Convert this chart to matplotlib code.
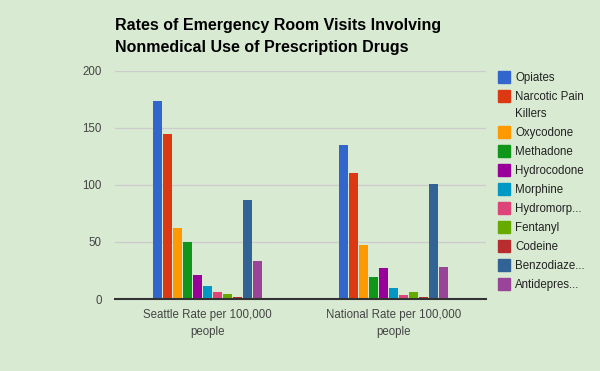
import numpy as np
from matplotlib import pyplot as plt
from matplotlib.patches import Rectangle

groups = ['Seattle Rate per 100,000\npeople', 'National Rate per 100,000\npeople']
drugs = ['Opiates', 'Narcotic Pain\nKillers', 'Oxycodone', 'Methadone', 'Hydrocodone',
         'Morphine', 'Hydromorp...', 'Fentanyl', 'Codeine', 'Benzodiaze...', 'Antidepres...']
seattle = [174, 145, 62.5, 50, 21.3, 11.7, 6.4, 4.6, 2, 87, 33.6]
national = [135.4, 110.8, 47.6, 19.6, 27.5, 9.9, 3.8, 6.4, 2, 101, 28.3]
colors = ['#3366cc', '#dc3912', '#ff9900', '#109618', '#990099', '#0099c6',
          '#dd4477', '#66aa00', '#b82e2e', '#316395', '#994499']
yticks = [0, 50, 100, 150, 200]

bg = '#d9ead3'
plt.rcParams['font.family'] = ['Liberation Sans', 'DejaVu Sans']
W, H = 600, 371

fig = plt.figure(figsize=(6, 3.71), dpi=100, facecolor=bg)
ax = fig.add_axes([115/W, 72/H, 371/W, 228/H])
ax.set_facecolor(bg)

slot = 10/185.5
width = 9/185.5
x = np.arange(len(groups))
for k, name in enumerate(drugs):
    vals = [seattle[k], national[k]]
    ax.bar(x + (k - 5)*slot, vals, width, color=colors[k], label=name, zorder=3)

ax.set_xlim(-0.5, 1.5)
ax.set_ylim(0, 200)
ax.set_yticks(yticks)
ax.set_xticks(x)
ax.set_xticklabels(groups, fontsize=8.3, color='#444444', linespacing=1.55)
ax.tick_params(axis='y', labelsize=8.3, labelcolor='#444444', length=0, pad=9.5)
ax.tick_params(axis='x', length=0, pad=7.5)
ax.grid(axis='y', color='#cccccc', linewidth=1, zorder=0)
for s in ['top', 'right', 'left']:
    ax.spines[s].set_visible(False)
ax.spines['bottom'].set_color('#333333')
ax.spines['bottom'].set_linewidth(1.5)
ax.spines['bottom'].set_zorder(4)

fig.text(115/W, 1 - 36.5/H, 'Rates of Emergency Room Visits Involving\nNonmedical Use of Prescription Drugs',
         fontsize=11.5, fontweight='bold', color='black', va='center', ha='left', linespacing=1.55)

# legend, drawn by hand so the square sits next to the first line
y = 76.7
for name, c in zip(drugs, colors):
    fig.add_artist(Rectangle((498/W, 1 - (y + 6)/H), 12/W, 12/H, color=c,
                             transform=fig.transFigure))
    lines = name.split('\n')
    for j, line in enumerate(lines):
        fig.text(515/W, 1 - (y + 1 + 17.3*j)/H, line, fontsize=8.3, color='#222222',
                 va='center', ha='left')
    y += 19 + 17.3*(len(lines) - 1)

fig.savefig('out.png', dpi=100, facecolor=bg)
